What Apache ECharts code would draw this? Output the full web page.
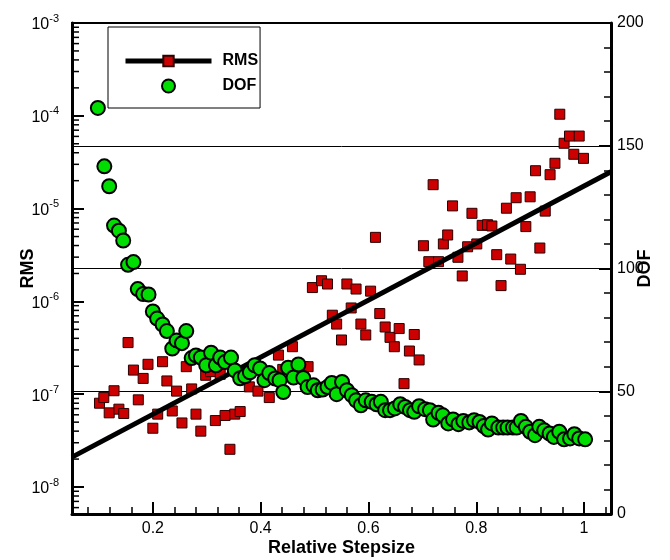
<!DOCTYPE html>
<html><head><meta charset="utf-8">
<script src="https://cdn.jsdelivr.net/npm/echarts@6/dist/echarts.min.js"></script>
<style>html,body{margin:0;padding:0;background:#fff}#c{width:670px;height:560px}</style>
</head><body><div id="c"></div>
<script>
// DOF series (right axis)
const dofX = [0.098,0.110,0.119,0.128,0.137,0.145,0.154,0.164,0.172,0.182,0.192,0.200,0.208,0.218,0.226,0.236,0.244,0.254,0.262,0.272,0.280,0.289,0.299,0.308,0.317,0.325,0.334,0.345,0.352,0.362,0.371,0.380,0.389,0.399,0.407,0.416,0.427,0.435,0.442,0.451,0.461,0.470,0.479,0.487,0.498,0.506,0.515,0.524,0.532,0.541,0.551,0.560,0.569,0.577,0.586,0.595,0.606,0.615,0.623,0.631,0.640,0.649,0.659,0.668,0.677,0.685,0.694,0.705,0.714,0.720,0.730,0.738,0.748,0.757,0.767,0.776,0.787,0.796,0.806,0.814,0.822,0.829,0.841,0.850,0.858,0.868,0.875,0.883,0.892,0.900,0.909,0.917,0.926,0.936,0.944,0.954,0.963,0.974,0.982,0.991,1.002];
const dofY = [165.4,141.6,133.5,117.5,115.4,111.4,101.5,102.6,91.6,89.6,89.4,82.5,79.6,77.2,74.5,67.4,70.7,69.6,74.5,63.5,64.6,63.7,60.6,65.7,60.6,63.7,61.9,63.7,58.5,55.3,56.1,57.7,60.6,59.3,54.5,57.4,55.2,54.5,49.7,59.6,55.6,60.9,55.4,51.7,52.4,50.4,50.7,51.7,53.4,48.8,53.8,50.4,48.4,46.3,44.3,46.3,45.7,44.7,45.7,42.3,42.3,43.0,44.7,43.6,42.3,41.6,43.9,42.7,42.3,38.5,41.2,40.2,36.9,38.5,36.6,37.9,37.3,38.2,37.5,35.8,34.4,36.9,35.2,35.2,35.2,35.2,35.2,37.9,35.5,33.5,32.1,35.5,34.1,32.8,31.4,33.5,30.4,30.8,32.5,30.8,30.4];
// RMS points (left log axis)
const rmsX = [0.101,0.109,0.119,0.128,0.137,0.146,0.154,0.164,0.173,0.182,0.191,0.200,0.209,0.218,0.226,0.236,0.244,0.254,0.262,0.272,0.280,0.289,0.298,0.307,0.316,0.325,0.334,0.343,0.352,0.362,0.379,0.395,0.416,0.433,0.441,0.459,0.479,0.488,0.496,0.513,0.524,0.533,0.541,0.550,0.560,0.568,0.577,0.586,0.595,0.604,0.613,0.621,0.631,0.640,0.648,0.657,0.666,0.676,0.685,0.694,0.702,0.712,0.720,0.730,0.739,0.747,0.756,0.766,0.774,0.784,0.792,0.801,0.811,0.821,0.829,0.838,0.846,0.856,0.864,0.874,0.882,0.892,0.900,0.910,0.918,0.928,0.937,0.946,0.955,0.963,0.973,0.981,0.991,0.999];
const rmsY = [8.0e-8,9.2e-8,6.3e-8,1.09e-7,6.9e-8,6.2e-8,3.6e-7,1.82e-7,8.7e-8,1.48e-7,2.1e-7,4.3e-8,6.1e-8,2.24e-7,1.39e-7,6.6e-8,1.08e-7,4.9e-8,1.98e-7,1.14e-7,6.1e-8,4.0e-8,1.6e-7,1.75e-7,5.2e-8,1.64e-7,5.9e-8,2.55e-8,6.1e-8,6.5e-8,1.2e-7,1.08e-7,9.2e-8,2.64e-7,1.85e-7,3.25e-7,1.98e-7,1.98e-7,1.41e-6,1.67e-6,1.54e-6,7.1e-7,5.7e-7,3.84e-7,1.54e-6,8.5e-7,1.36e-6,5.7e-7,4.35e-7,1.29e-6,4.9e-6,7.4e-7,5.3e-7,4.1e-7,3.25e-7,5.1e-7,1.3e-7,2.92e-7,4.4e-7,2.34e-7,3.98e-6,2.68e-6,1.81e-5,2.68e-6,4.16e-6,5.2e-6,1.07e-5,2.99e-6,1.88e-6,3.88e-6,8.9e-6,4.16e-6,6.6e-6,6.7e-6,6.5e-6,3.19e-6,1.48e-6,1.01e-5,2.86e-6,1.31e-5,2.22e-6,6.4e-6,1.34e-5,2.56e-5,3.76e-6,9.4e-6,2.32e-5,3.08e-5,1.04e-4,5.06e-5,6.05e-5,3.85e-5,6.05e-5,3.48e-5];
// RMS fitted line end points
const fitX = [0.05, 1.05];
const fitY = [2.1e-8, 2.5e-5];
// axis ticks
const xTickValues = [0.2, 0.4, 0.6, 0.8, 1];
const xMinorTickValues = [0.08,0.12,0.16,0.24,0.28,0.32,0.36,0.44,0.48,0.52,0.56,0.64,0.68,0.72,0.76,0.84,0.88,0.92,0.96,1.04];
const rmsMin = 5.12e-9, rmsMax = 1e-3;
const rmsMinorTicks = [];
for (let e = -9; e <= -4; e++) for (let m = 2; m <= 9; m++) { const v = m * Math.pow(10, e); if (v > rmsMin && v < rmsMax) rmsMinorTicks.push(v); }

const FONT = 'Liberation Sans, Arial, Helvetica, sans-serif';
const X_MIN = 0.05, X_MAX = 1.05;

const chart = echarts.init(document.getElementById('c'), null, {renderer: 'canvas'});
chart.setOption({
  animation: false,
  backgroundColor: '#fff',
  grid: {left: 72, right: 59, top: 23, bottom: 46, show: true, borderColor: '#000', borderWidth: 2, backgroundColor: 'transparent', containLabel: false, outerBoundsMode: 'none'},
  legend: {
    data: ['RMS', 'DOF'], orient: 'vertical', left: 108, top: 27,
    padding: [26, 2, 14, 15], itemWidth: 86, itemHeight: 13, itemGap: 9,
    borderColor: '#000', borderWidth: 1, backgroundColor: '#fff', borderRadius: 0,
    selectedMode: false,
    lineStyle: {width: 5, color: '#000'},
    textStyle: {fontFamily: FONT, fontSize: 16, fontWeight: 'bold', color: '#000', padding: [0, 0, 0, 6]}
  },
  xAxis: [{
    type: 'value', min: X_MIN, max: X_MAX, position: 'bottom',
    name: 'Relative Stepsize', nameLocation: 'middle', nameGap: 25, nameMoveOverlap: false,
    nameTextStyle: {fontFamily: FONT, fontSize: 18, fontWeight: 'bold', color: '#000'},
    axisLine: {show: true, onZero: false, lineStyle: {color: '#000', width: 3}},
    axisTick: {show: true, inside: true, length: 12, lineStyle: {color: '#000', width: 2}, customValues: xTickValues},
    axisLabel: {show: true, margin: 7, fontFamily: FONT, fontSize: 16, color: '#000', customValues: xTickValues},
    splitLine: {show: false}
  }, {
    type: 'value', min: X_MIN, max: X_MAX, position: 'bottom',
    axisLine: {show: false},
    axisTick: {show: true, inside: true, length: 7, lineStyle: {color: '#000', width: 1.5}, customValues: xMinorTickValues},
    axisLabel: {show: false, customValues: xMinorTickValues},
    splitLine: {show: false}
  }],
  yAxis: [{
    type: 'log', logBase: 10, min: rmsMin, max: rmsMax, position: 'left',
    name: 'RMS', nameLocation: 'middle', nameGap: 35, nameRotate: 90, nameMoveOverlap: false,
    nameTextStyle: {fontFamily: FONT, fontSize: 18, fontWeight: 'bold', color: '#000'},
    axisLine: {show: true, onZero: false, lineStyle: {color: '#000', width: 3}},
    axisTick: {show: true, inside: true, length: 12, lineStyle: {color: '#000', width: 2}},
    axisLabel: {
      show: true, showMinLabel: false, margin: 13,
      formatter: function (v) { const e = Math.round(Math.log10(v)); return '{b|10}{s|' + e + '}'; },
      rich: {
        b: {fontFamily: FONT, fontSize: 16, color: '#000', lineHeight: 20, verticalAlign: 'bottom'},
        s: {fontFamily: FONT, fontSize: 11, color: '#000', lineHeight: 20, verticalAlign: 'top'}
      }
    },
    splitLine: {show: false}
  }, {
    type: 'value', min: 0, max: 200, interval: 50, position: 'right',
    name: 'DOF', nameLocation: 'middle', nameGap: 25, nameRotate: 90, nameMoveOverlap: false,
    nameTextStyle: {fontFamily: FONT, fontSize: 18, fontWeight: 'bold', color: '#000'},
    axisLine: {show: true, onZero: false, lineStyle: {color: '#000', width: 3}},
    axisTick: {show: true, inside: true, length: 12, lineStyle: {color: '#000', width: 2}},
    minorTick: {show: true, splitNumber: 5, length: 7, lineStyle: {color: '#000', width: 1.5}},
    axisLabel: {show: true, margin: 6, fontFamily: FONT, fontSize: 16, color: '#000'},
    splitLine: {show: true, lineStyle: {color: '#000', width: 1}}
  }],
  series: [{
    name: 'RMS points', type: 'scatter', xAxisIndex: 0, yAxisIndex: 0,
    symbol: 'rect', symbolSize: 10,
    itemStyle: {color: '#cc0000', borderColor: '#2a0000', borderWidth: 1, opacity: 1},
    data: rmsX.map((x, i) => [x, rmsY[i]]), z: 3
  }, {
    name: 'RMS', type: 'line', xAxisIndex: 0, yAxisIndex: 0,
    symbol: 'rect', showSymbol: false, symbolSize: 10,
    itemStyle: {color: '#cc0000', borderColor: '#2a0000', borderWidth: 1, opacity: 1},
    lineStyle: {color: '#000', width: 5},
    data: fitX.map((x, i) => [x, fitY[i]]), z: 4
  }, {
    name: 'DOF', type: 'scatter', xAxisIndex: 0, yAxisIndex: 1,
    symbol: 'circle', symbolSize: 14,
    itemStyle: {color: '#00dd00', borderColor: '#000', borderWidth: 2, opacity: 1},
    data: dofX.map((x, i) => [x, dofY[i]]), z: 5
  }, {
    name: 'rms minor ticks', type: 'custom', xAxisIndex: 0, yAxisIndex: 0, silent: true, clip: false, z: 6,
    data: rmsMinorTicks.map(v => [X_MIN, v]),
    encode: {x: 0, y: 1},
    renderItem: function (params, api) {
      const p = api.coord([api.value(0), api.value(1)]);
      return {type: 'line', shape: {x1: p[0], y1: p[1], x2: p[0] + 7, y2: p[1]}, style: {stroke: '#000', lineWidth: 1.5}};
    }
  }]
});
</script></body></html>
